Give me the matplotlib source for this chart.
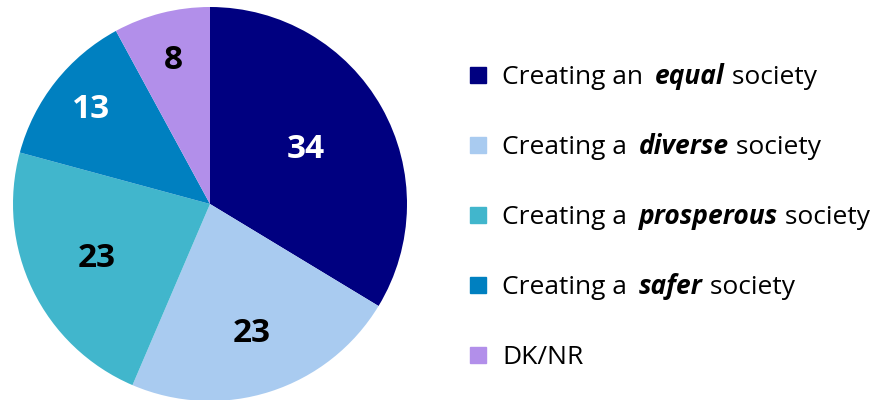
import matplotlib
matplotlib.use("Agg")
import matplotlib.pyplot as plt
import numpy as np

categories = ["equal", "diverse", "prosperous", "safer", "DK/NR"]
values = [34, 23, 23, 13, 8]
colors = ["#000080", "#A9CBF0", "#41B6CC", "#0080C0", "#B28FEA"]
label_colors = ["white", "black", "black", "white", "black"]
legend_parts = [
    ("Creating an ", "equal", " society"),
    ("Creating a ", "diverse", " society"),
    ("Creating a ", "prosperous", " society"),
    ("Creating a ", "safer", " society"),
    ("DK/NR", "", ""),
]
label_r = [0.56, 0.69, 0.64, 0.77, 0.75]

FONT = "Open Sans"
W, H = 883, 400
fig = plt.figure(figsize=(W / 100, H / 100), dpi=100)
ax = fig.add_axes([13 / W, -1 / H, 394 / W, 394 / H])
wedges, _ = ax.pie(values, colors=colors, startangle=90, counterclock=False,
                   radius=1, wedgeprops=dict(linewidth=0))
ax.set_xlim(-1, 1)
ax.set_ylim(-1, 1)
ax.set_aspect("equal")
ax.axis("off")

for w, v, c, r in zip(wedges, values, label_colors, label_r):
    ang = np.deg2rad((w.theta1 + w.theta2) / 2)
    ax.text(r * np.cos(ang), r * np.sin(ang), str(v), ha="center", va="center",
            fontsize=24, fontweight="bold", color=c, family=FONT)

renderer = fig.canvas.get_renderer()
row_y = [75, 145, 215, 285, 355]
for (pre, mid, post), col, yy in zip(legend_parts, colors, row_y):
    fig.patches.append(plt.Rectangle((470 / W, 1 - (yy + 8) / H), 16 / W, 16 / H,
                                     transform=fig.transFigure, color=col))
    x = 502
    for txt, bold in ((pre, False), (mid, True), (post, False)):
        if not txt:
            continue
        if bold:
            x += 5
        t = fig.text(x / W, 1 - (yy + 9) / H, txt, ha="left", va="baseline",
                     fontsize=19, family=FONT,
                     fontweight="bold" if bold else "normal",
                     fontstyle="italic" if bold else "normal")
        bb = t.get_window_extent(renderer)
        x += bb.width
fig.savefig("out.png", dpi=100)
